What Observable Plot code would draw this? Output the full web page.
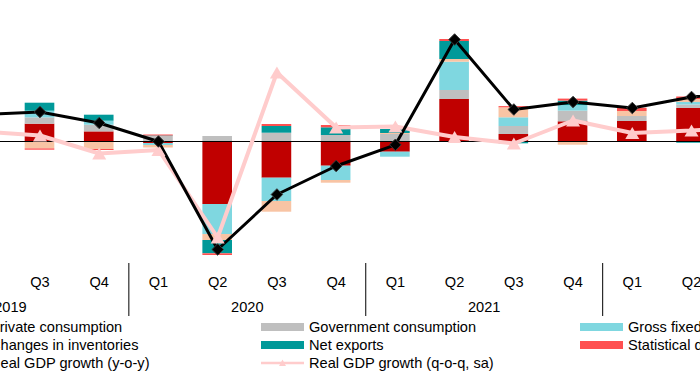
<!DOCTYPE html>
<html>
<head>
<meta charset="utf-8">
<script src="https://cdn.jsdelivr.net/npm/d3@7"></script>
<script src="https://cdn.jsdelivr.net/npm/@observablehq/plot@0.6"></script>
<style>
html, body { margin: 0; padding: 0; background: #fff; overflow: hidden; width: 700px; height: 387px; }
#chart { position: relative; width: 700px; height: 387px; overflow: hidden; font-family: "Liberation Sans", Arial, sans-serif; }
#chart svg { display: block; overflow: hidden; }
.legend { position: absolute; left: -58px; top: 318px; display: grid; grid-template-columns: 319px 319px 319px; grid-auto-rows: 18px; font-size: 14.6px; color: #000; }
.item { display: flex; align-items: center; white-space: nowrap; }
.sw { width: 43px; height: 8px; margin-right: 5px; flex: none; }
.swl { width: 43px; height: 12px; margin-right: 5px; flex: none; display: block; }
</style>
</head>
<body>
<div id="chart"></div>
<script>
// Quarters 2019Q1 ... 2022Q4 (index 0..15)
const quarterLabels = ["Q1","Q2","Q3","Q4","Q1","Q2","Q3","Q4","Q1","Q2","Q3","Q4","Q1","Q2","Q3","Q4"];
const years = ["2019","2020","2021","2022"];

// Contributions to real GDP growth (y-o-y, pp)
const privateCons     = [null, null, 1.73, 0.96, -0.20, -6.30, -3.67, -2.47, -1.07, 4.20, 0.70, 1.97, 2.00, 3.30, null, null];
const governmentCons  = [null, null, 0.63, 0.67,  0.50,  0.50,  0.83,  0.60,  0.70, 0.90, 0.80, 1.07, 0.50, 0.35, null, null];
const grossFixedCap   = [null, null, 0.67, 0.40, -0.20, -3.00, -2.33, -1.43, -0.50, 2.83, 0.87, 0.55, 0.00, 0.25, null, null];
const inventories     = [null, null, -0.74, -0.80, -0.25, -0.60, -1.07, -0.27, 0.10, 0.27, 1.00, -0.37, 0.50, 0.30, null, null];
const netExports      = [null, null, 0.80, 0.60,  0.05, -1.33,  0.67,  0.77,  0.40, 1.80, -0.23, 0.45, 0.00, -0.17, null, null];
const statDiscrepancy = [null, null, -0.13, -0.10, 0.10, -0.17,  0.20,  0.23,  0.00, 0.20, 0.12, 0.20, 0.33, 0.25, null, null];

// Real GDP growth
const gdpYoY = [null, 2.70, 2.95, 1.85, 0.00, -10.80, -5.30, -2.45, -0.33, 10.20, 3.20, 3.95, 3.35, 4.45, 5.00, null];
const gdpQoQ = [null, 1.00, 0.60, -1.20, -0.85, -9.60, 6.90, 1.40, 1.50, 0.45, -0.20, 2.10, 0.85, 1.10, 1.50, null];

const seriesNames = ["Private consumption", "Government consumption", "Gross fixed capital formation",
                     "Changes in inventories", "Net exports", "Statistical discrepancy"];
const seriesValues = [privateCons, governmentCons, grossFixedCap, inventories, netExports, statDiscrepancy];
const seriesColors = ["#C00000", "#BFBFBF", "#7FD7E0", "#F8C4A4", "#009999", "#FF5050"];
const yoyName = "Real GDP growth (y-o-y)";
const qoqName = "Real GDP growth (q-o-q, sa)";
const yoyColor = "#000000";
const qoqColor = "#FFCCCC";

const xDomain = [1.3331, 13.1515];
const idx = d3.range(quarterLabels.length);
const barRows = seriesNames.flatMap((s, k) =>
  idx.filter(i => seriesValues[k][i] != null).map(i => ({i, series: s, value: seriesValues[k][i]})));
const yoyRows = idx.filter(i => gdpYoY[i] != null).map(i => ({i, value: gdpYoY[i]}));
const qoqRows = idx.filter(i => gdpQoQ[i] != null).map(i => ({i, value: gdpQoQ[i]}));
const visibleTicks = idx.filter(i => i >= xDomain[0] && i <= xDomain[1]);
const yearCenters = years.map((y, k) => 4 * k + 1.5).filter(v => v >= xDomain[0] && v <= xDomain[1]);
const yearSeparators = years.map((y, k) => 4 * k - 0.5).slice(1);

const chart = Plot.plot({
  width: 700,
  height: 318,
  marginLeft: 0,
  marginRight: 0,
  marginTop: 19,
  marginBottom: 55,
  style: {fontFamily: "'Liberation Sans', Arial, sans-serif", fontSize: "14.6px", color: "#000", background: "#fff", overflow: "hidden"},
  x: {type: "linear", domain: xDomain, label: null},
  y: {domain: [-12.2, 12.2], axis: null, label: null},
  color: {domain: seriesNames, range: seriesColors},
  marks: [
    Plot.rectY(barRows, Plot.stackY({
      x: "i",
      x1: d => d.i - 0.25,
      x2: d => d.i + 0.25,
      y: "value",
      fill: "series",
      order: seriesNames
    })),
    Plot.ruleY([0], {stroke: "#000", strokeWidth: 1}),
    Plot.line(qoqRows, {x: "i", y: "value", stroke: qoqColor, strokeWidth: 4}),
    Plot.line(yoyRows, {x: "i", y: "value", stroke: yoyColor, strokeWidth: 3}),
    Plot.dot(qoqRows, {x: "i", y: "value", symbol: "triangle", r: 5.2, fill: qoqColor, dy: 2}),
    Plot.dot(yoyRows, {x: "i", y: "value", symbol: "diamond2", r: 5.2, fill: yoyColor, stroke: "#3a3a3a", strokeWidth: 1}),
    Plot.axisX(visibleTicks, {tickSize: 0, tickPadding: 13, tickFormat: i => quarterLabels[i], label: null}),
    Plot.axisX(yearCenters, {tickSize: 0, tickPadding: 38, tickFormat: v => years[(v - 1.5) / 4], label: null}),
    Plot.axisX(yearSeparators, {tickSize: 53, tickFormat: () => "", label: null, stroke: "#000"})
  ]
});

const root = document.getElementById("chart");
root.appendChild(chart);

// Legend
const legend = document.createElement("div");
legend.className = "legend";
const items = [
  {name: seriesNames[0], color: seriesColors[0], type: "bar"},
  {name: seriesNames[1], color: seriesColors[1], type: "bar"},
  {name: seriesNames[2], color: seriesColors[2], type: "bar"},
  {name: seriesNames[3], color: seriesColors[3], type: "bar"},
  {name: seriesNames[4], color: seriesColors[4], type: "bar"},
  {name: seriesNames[5], color: seriesColors[5], type: "bar"},
  {name: yoyName, color: yoyColor, type: "yoy"},
  {name: qoqName, color: qoqColor, type: "qoq"}
];
for (const it of items) {
  const el = document.createElement("div");
  el.className = "item";
  if (it.type === "bar") {
    const sw = document.createElement("span");
    sw.className = "sw";
    sw.style.background = it.color;
    el.appendChild(sw);
  } else {
    const ns = "http://www.w3.org/2000/svg";
    const s = document.createElementNS(ns, "svg");
    s.setAttribute("class", "swl");
    s.setAttribute("width", 43);
    s.setAttribute("height", 12);
    const ln = document.createElementNS(ns, "line");
    ln.setAttribute("x1", 0); ln.setAttribute("x2", 43);
    ln.setAttribute("y1", 6); ln.setAttribute("y2", 6);
    ln.setAttribute("stroke", it.color);
    ln.setAttribute("stroke-width", 2.5);
    s.appendChild(ln);
    const mk = document.createElementNS(ns, "path");
    mk.setAttribute("d", it.type === "yoy" ? "M21.5,2.5L25,6L21.5,9.5L18,6Z" : "M21.5,2.5L25,9L18,9Z");
    mk.setAttribute("fill", it.color);
    s.appendChild(mk);
    el.appendChild(s);
  }
  const t = document.createElement("span");
  t.textContent = it.name;
  el.appendChild(t);
  legend.appendChild(el);
}
root.appendChild(legend);
</script>
</body>
</html>
